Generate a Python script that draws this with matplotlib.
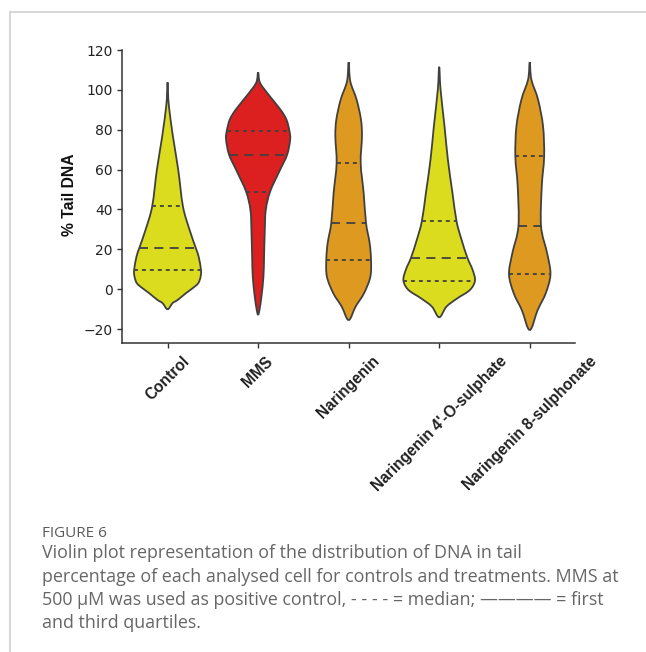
import numpy as np
import matplotlib.pyplot as plt
from matplotlib.path import Path
from matplotlib.patches import PathPatch
from matplotlib.lines import Line2D

# groups shown on the x axis
groups = ['Control', 'MMS', 'Naringenin', "Naringenin 4'-O-sulphate", 'Naringenin 8-sulphonate']
colors = ['#dcdc1e', '#dc1f1f', '#de9a20', '#dcdc1e', '#de9a20']

# violin outlines: % tail DNA level and half width (x units)
ctrl_y = [103.8, 98.0, 91.8, 76.7, 59.9, 41.5, 29.8, 20.9, 16.4, 9.7, 6.3, 3.0, 0.5, -2.0, -5.4, -7.0, -10.1]
ctrl_w = [0.0, 0.006, 0.015, 0.059, 0.118, 0.170, 0.243, 0.310, 0.343, 0.369, 0.365, 0.339, 0.277, 0.203, 0.111, 0.055, 0.0]

mms_y = [108.8, 103.5, 96.8, 90.1, 85.1, 79.2, 75.0, 67.5, 59.9, 49.0, 39.8, 29.8, 16.4, 6.3, -3.7, -10.4, -12.9]
mms_w = [0.0, 0.022, 0.129, 0.247, 0.313, 0.347, 0.354, 0.321, 0.243, 0.133, 0.085, 0.074, 0.066, 0.059, 0.037, 0.015, 0.0]

nar_y = [113.9, 104.3, 95.1, 85.1, 76.7, 63.2, 48.2, 33.2, 23.1, 14.7, 6.3, -2.0, -8.7, -15.5]
nar_w = [0.0, 0.018, 0.088, 0.136, 0.147, 0.133, 0.166, 0.192, 0.232, 0.247, 0.240, 0.170, 0.077, 0.0]

n4_y = [111.6, 100.2, 81.7, 65.0, 48.2, 34.0, 24.8, 15.6, 9.7, 4.3, -0.4, -4.5, -8.7, -14.1]
n4_w = [0.0, 0.015, 0.059, 0.096, 0.147, 0.192, 0.247, 0.313, 0.369, 0.395, 0.339, 0.203, 0.081, 0.0]

n8_y = [113.9, 105.2, 95.1, 81.7, 66.6, 51.6, 31.5, 18.1, 7.5, -2.0, -10.4, -20.5]
n8_w = [0.0, 0.018, 0.092, 0.147, 0.159, 0.133, 0.125, 0.192, 0.229, 0.177, 0.088, 0.0]

profiles = [(ctrl_y, ctrl_w), (mms_y, mms_w), (nar_y, nar_w), (n4_y, n4_w), (n8_y, n8_w)]

# first quartile, median, third quartile
q1 = [9.7, 49.0, 14.7, 4.3, 7.5]
median = [20.9, 67.5, 33.2, 15.6, 31.5]
q3 = [41.5, 79.2, 63.2, 34.0, 66.6]

yticks = [-20, 0, 20, 40, 60, 80, 100, 120]

caption_title = 'FIGURE 6'
caption_lines = [
    'Violin plot representation of the distribution of DNA in tail',
    'percentage of each analysed cell for controls and treatments. MMS at',
    '500 \u03bcM was used as positive control, - - - - = median; \u2014\u2014\u2014\u2014 = first',
    'and third quartiles.',
]

edge = '#404040'


def violin_path(xc, ys, ws):
    # closed outline through the read points, drawn as smooth bezier pieces
    order = np.argsort(ys)
    ys = np.asarray(ys)[order]
    ws = np.asarray(ws)[order]
    right = [(xc + w, y) for y, w in zip(ys, ws)]
    left = [(xc - w, y) for y, w in zip(ys[::-1][1:-1], ws[::-1][1:-1])]
    pts = np.array(right + left)
    n = len(pts)
    verts = [pts[0]]
    codes = [Path.MOVETO]
    for k in range(n):
        p0, p1, p2, p3 = pts[k - 1], pts[k], pts[(k + 1) % n], pts[(k + 2) % n]
        verts += [p1 + (p2 - p0) / 6, p2 - (p3 - p1) / 6, p2]
        codes += [Path.CURVE4] * 3
    return Path(verts, codes)


fig = plt.figure(figsize=(6.46, 6.52), dpi=100)
ax = fig.add_axes([0.1893, 0.4739, 0.7008, 0.4494])

for i, (py, pw) in enumerate(profiles):
    ax.add_patch(PathPatch(violin_path(i, py, pw), facecolor=colors[i], edgecolor=edge, linewidth=1.3, zorder=2))
    py = np.array(py)
    pw = np.array(pw)
    order = np.argsort(py)
    for val, ls in [(q1[i], (0, (2.2, 2.2))), (median[i], (0, (5, 3.5))), (q3[i], (0, (2.2, 2.2)))]:
        hw = np.interp(val, py[order], pw[order])
        ax.plot([i - hw, i + hw], [val, val], color=edge, lw=1.3, linestyle=ls, zorder=3)

ax.set_xlim(-0.5, 4.5)
ax.set_ylim(-27, 120)
ax.set_yticks(yticks)
ax.set_yticklabels(['\u221220', '0', '20', '40', '60', '80', '100', '120'])
ax.set_xticks(range(len(groups)))
ax.set_xticklabels(groups, rotation=45, ha='center', va='top', fontsize=11.2,
                   fontweight='bold', family='Liberation Sans', color='#111111')
for s in ['top', 'right']:
    ax.spines[s].set_visible(False)
for s in ['left', 'bottom']:
    ax.spines[s].set_color('#333333')
    ax.spines[s].set_linewidth(1.1)
ax.tick_params(axis='both', colors='#333333', length=3.5, width=1.0, labelsize=10, labelcolor='#222222')
ax.tick_params(axis='x', labelsize=11.2, pad=4)

ax.set_ylabel('% Tail DNA', fontsize=11.3, fontweight='bold', family='Liberation Sans', color='#111111')
ax.yaxis.set_label_coords(-0.100, 0.505)

# frame lines of the page
fig.add_artist(Line2D([9.5 / 646, 1.0], [1 - 12 / 652, 1 - 12 / 652], color='#d0d0d0', lw=1.2))
fig.add_artist(Line2D([9.5 / 646, 9.5 / 646], [0, 1 - 12 / 652], color='#d0d0d0', lw=1.2))

fig.text(41.5 / 646, 1 - 537.3 / 652, caption_title, fontsize=11, family='Open Sans', color='#5a5a5a', va='baseline')
for k, line in enumerate(caption_lines):
    fig.text(41.5 / 646, 1 - (558.3 + 23.2 * k) / 652, line, fontsize=12.85, family='Open Sans',
             color='#666666', va='baseline')

fig.savefig('out.png', dpi=100)
